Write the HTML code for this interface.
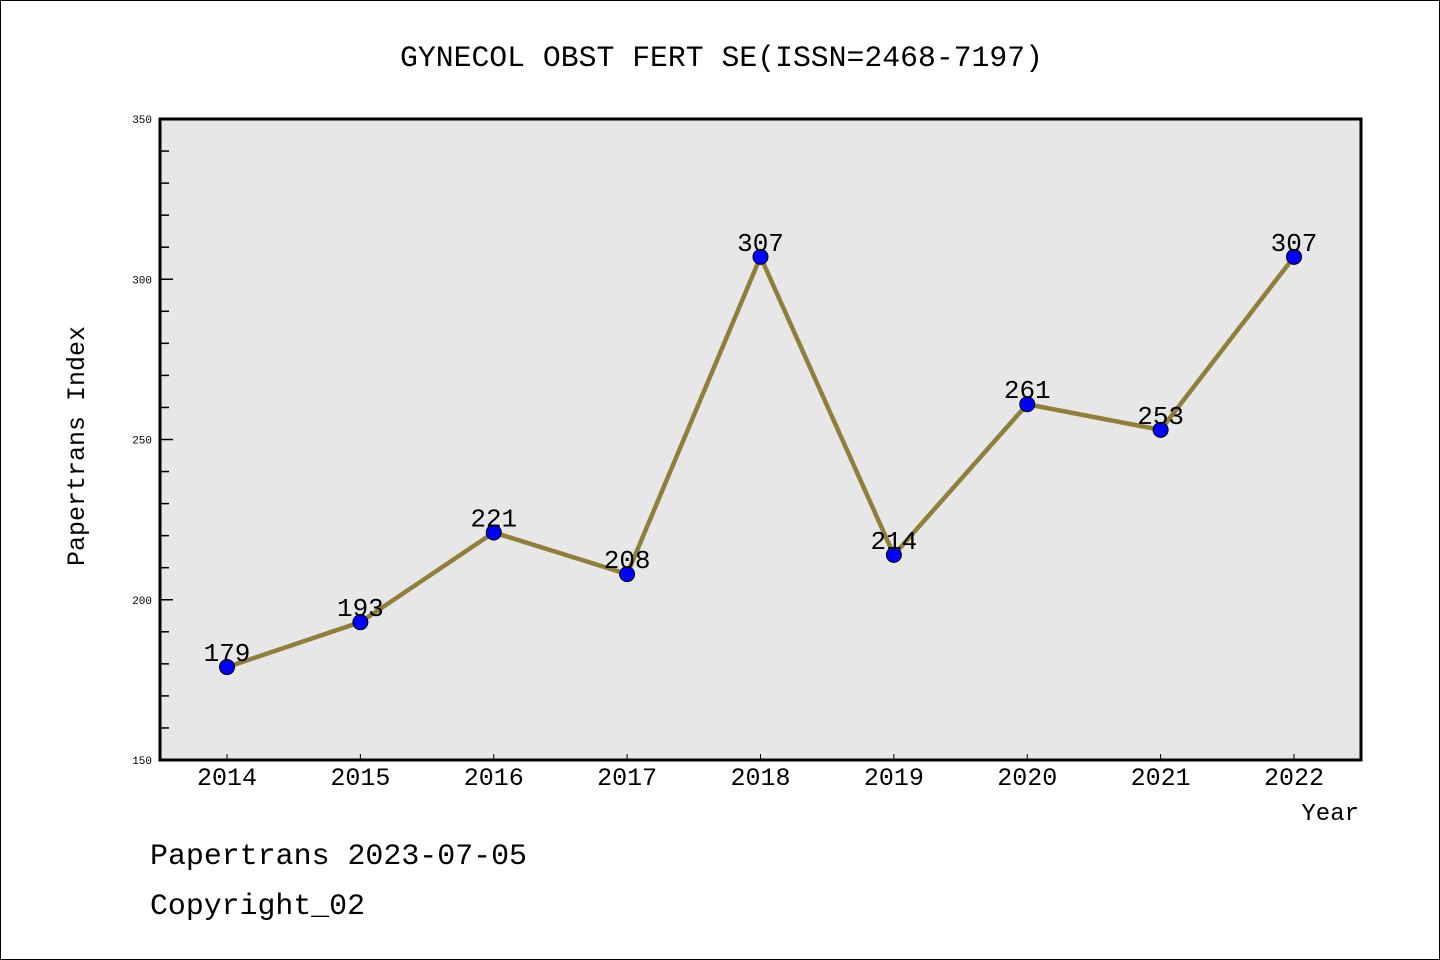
<!DOCTYPE html>
<html><head><meta charset="utf-8"><style>
html,body{margin:0;padding:0;background:#fff}
svg{display:block}
text{font-family:"Liberation Mono","WenQuanYi Zen Hei",monospace;fill:#000}
</style></head><body>
<svg id="chart" width="1440" height="960" xmlns="http://www.w3.org/2000/svg">
<rect x="0.5" y="0.5" width="1439" height="959" fill="#fff" stroke="#000"/>
<text x="400" y="66" font-size="30" textLength="643" lengthAdjust="spacingAndGlyphs">GYNECOL OBST FERT SE(ISSN=2468-7197)</text>
<rect x="160" y="119" width="1201" height="641" fill="#e7e7e7"/>
<g id="yaxis"></g>
<g id="xaxis"></g>
<g id="series"></g>
<rect x="160" y="119" width="1201" height="641" fill="none" stroke="#000" stroke-width="3"/>
<text transform="translate(84,446) rotate(-90)" text-anchor="middle" font-size="25">Papertrans Index</text>
<text x="1359" y="820" text-anchor="end" font-size="24">Year</text>
<text x="150" y="864" font-size="30" textLength="377" lengthAdjust="spacingAndGlyphs">Papertrans 2023-07-05</text>
<text x="150" y="914" font-size="30" textLength="215" lengthAdjust="spacingAndGlyphs">Copyright_02</text>
</svg>
<script>
const years=[2014,2015,2016,2017,2018,2019,2020,2021,2022];
const values=[179,193,221,208,307,214,261,253,307];
const yTicks=[150,200,250,300,350];
const NS="http://www.w3.org/2000/svg";
const X0=227,X1=1294,TOPY=119,BOTY=760,YMIN=150,YMAX=350;
function xs(i){return X0+(X1-X0)*i/(years.length-1);}
function ys(v){return BOTY-(v-YMIN)/(YMAX-YMIN)*(BOTY-TOPY);}
function mk(tag,attrs,parent){const e=document.createElementNS(NS,tag);for(const k in attrs)e.setAttribute(k,attrs[k]);parent.appendChild(e);return e;}
const ya=document.getElementById('yaxis'),xa=document.getElementById('xaxis'),sg=document.getElementById('series');
for(let v=YMIN;v<=YMAX;v+=10){
  const major=(v%50===0);
  const t=mk('line',{x1:160,x2:major?173:169,y1:ys(v),y2:ys(v),stroke:'#000','stroke-width':1.5},ya);
  
  
}
yTicks.forEach(v=>{
  const t=mk('text',{x:152,y:ys(v)+4,'text-anchor':'end','font-size':11},ya);
  t.textContent=v;
  
  
});
years.forEach((y,i)=>{
  const t=mk('line',{x1:xs(i),x2:xs(i),y1:BOTY,y2:BOTY-6,stroke:'#000','stroke-width':1},xa);
  
  
  const l=mk('text',{x:xs(i),y:785,'text-anchor':'middle','font-size':25},xa);
  l.textContent=y;
  
  
});
const pts=values.map((v,i)=>xs(i)+','+ys(v)).join(' ');
const pl=mk('polyline',{points:pts,fill:'none',stroke:'#8f7f3a','stroke-width':4.5,'stroke-linejoin':'round'},sg);


values.forEach((v,i)=>{
  const c=mk('circle',{cx:xs(i),cy:ys(v),r:7.5,fill:'#0000ff',stroke:'#000','stroke-width':1},sg);
  
  
  const t=mk('text',{x:xs(i),y:ys(v)-6,'text-anchor':'middle','font-size':26},sg);
  t.textContent=v;
  
  
});
</script>
</body></html>
